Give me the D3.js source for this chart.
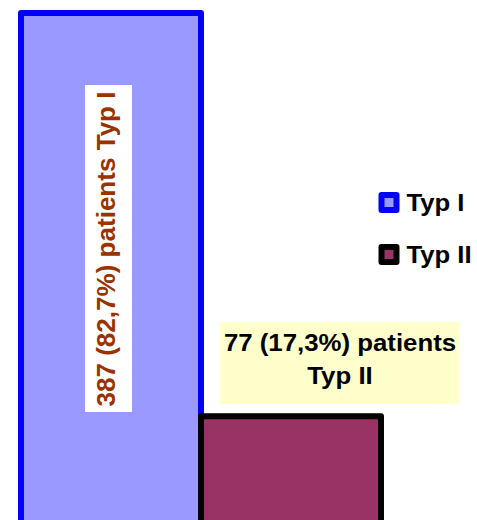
<!DOCTYPE html>
<html>
<head>
<meta charset="utf-8">
<script src="https://cdn.jsdelivr.net/npm/d3@7/dist/d3.min.js"></script>
<style>
  html, body { margin: 0; padding: 0; background: #ffffff; }
  svg { display: block; }
  text { font-family: "Liberation Sans", Arial, sans-serif; font-weight: bold; }
</style>
</head>
<body>
<div id="chart"></div>
<script>
// ---- data ----
const categories = ["Typ I", "Typ II"];
const percentValues = [82.7, 17.3];
const patientCounts = [387, 77];
const percentLabels = ["82,7%", "17,3%"];
const fillColors = ["#9999ff", "#993366"];
const strokeColors = ["#0000ff", "#000000"];

const W = 477, H = 520;
const svg = d3.select("#chart").append("svg")
  .attr("width", W).attr("height", H);

const x = d3.scaleBand().domain(categories).range([21, 381]).padding(0);
const y = d3.scaleLinear().domain([0, 82.7]).range([523, 13]);

const data = categories.map((c, i) => ({
  cat: c, value: percentValues[i], count: patientCounts[i],
  pct: percentLabels[i], fill: fillColors[i], stroke: strokeColors[i]
}));

// bars
svg.append("g").selectAll("rect").data(data).enter().append("rect")
  .attr("x", d => x(d.cat))
  .attr("y", d => y(d.value))
  .attr("width", x.bandwidth())
  .attr("height", d => y(0) - y(d.value))
  .attr("fill", d => d.fill)
  .attr("stroke", d => d.stroke)
  .attr("stroke-width", 6)
  .attr("stroke-linejoin", "round");

// label for Typ I (rotated, white box)
const d0 = data[0];
svg.append("rect")
  .attr("x", x(d0.cat) + 64).attr("y", 85)
  .attr("width", 47).attr("height", 327)
  .attr("fill", "#ffffff");
svg.append("text")
  .attr("transform", `translate(${x(d0.cat) + 94},249) rotate(-90)`)
  .attr("text-anchor", "middle")
  .attr("font-size", 26)
  .attr("fill", "#993300")
  .attr("textLength", 315)
  .attr("lengthAdjust", "spacingAndGlyphs")
  .text(`${d0.count} (${d0.pct}) patients ${d0.cat}`);

// label for Typ II (yellow box)
const d1 = data[1];
svg.append("rect")
  .attr("x", 220).attr("y", 322)
  .attr("width", 239).attr("height", 82)
  .attr("fill", "#ffffcc");
const lab2 = svg.append("g").attr("transform", "translate(340,0) scale(1.075,1)");
lab2.append("text")
  .attr("x", 0).attr("y", 351.5)
  .attr("text-anchor", "middle")
  .attr("font-size", 24)
  .attr("fill", "#000000")
  .text(`${d1.count} (${d1.pct}) patients`);
lab2.append("text")
  .attr("x", 0).attr("y", 384.5)
  .attr("text-anchor", "middle")
  .attr("font-size", 24)
  .attr("fill", "#000000")
  .text(d1.cat);

// legend
const legend = svg.append("g");
const legY = [202.5, 254.5];
data.forEach((d, i) => {
  legend.append("rect")
    .attr("x", 381.5).attr("y", legY[i] - 7.5)
    .attr("width", 15).attr("height", 15)
    .attr("fill", d.fill)
    .attr("stroke", d.stroke)
    .attr("stroke-width", 6)
    .attr("stroke-linejoin", "round");
  legend.append("text")
    .attr("transform", `translate(406.5,${legY[i] + 8}) scale(1.07,1)`)
    .attr("font-size", 24)
    .attr("fill", "#000000")
    .text(d.cat);
});
</script>
</body>
</html>
